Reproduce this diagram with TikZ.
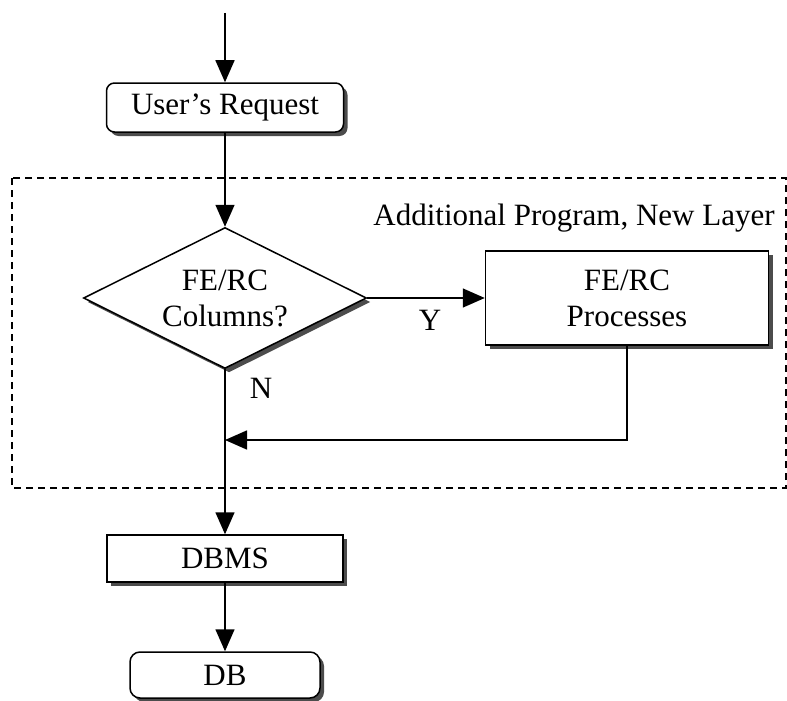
\documentclass[tikz,border=0pt]{standalone}
\usepackage{fontspec}
\setmainfont{Liberation Serif}
\usetikzlibrary{arrows.meta,shapes.geometric,shadows}

\tikzset{
  every node/.style={font=\fontsize{31}{36}\selectfont},
  shade box/.style={draw, line width=1.5pt, fill=white, inner sep=0pt,
    drop shadow={shadow xshift=4pt, shadow yshift=-4pt, fill=black!70, opacity=1}},
  roundbox/.style={shade box, rounded corners=8pt},
  squarebox/.style={shade box, align=center},
  decision/.style={shade box, diamond, aspect=2, align=center},
  arr/.style={line width=1.5pt, -{Triangle[width=19pt,length=22pt]}},
  plain/.style={line width=1.5pt},
  layer/.style={line width=1.5pt, dash pattern=on 7pt off 5pt},
  lbl/.style={inner sep=0pt, anchor=base}
}

\begin{document}
\begin{tikzpicture}[x=1pt, y=-1pt]
  \useasboundingbox[fill=white] (0,0) rectangle (787,701);

  % boundary of the added software layer
  \draw[layer] (12,178) rectangle (786,488);
  \node[lbl] (layerlbl) at (574,225) {Additional Program, New Layer};

  % flow nodes
  \coordinate (start) at (225,13);
  \node[roundbox, minimum width=237pt, minimum height=49pt] (req) at (225,107.5) {User’s Request};
  \node[decision, minimum width=283pt, minimum height=141pt] (dec) at (225,298) {FE/RC\\Columns?};
  \node[squarebox, minimum width=283pt, minimum height=94pt] (proc) at (627,298) {FE/RC\\Processes};
  \node[squarebox, minimum width=236pt, minimum height=47pt] (dbms) at (225,558.5) {DBMS};
  \node[roundbox, rounded corners=10pt, minimum width=190pt, minimum height=46pt] (db) at (225,675) {DB};
  \coordinate (merge) at (225,440);

  % connectors
  \draw[arr] (start) -- (req.north);
  \draw[arr] (req.south) -- (dec.north);
  \draw[arr] (dec.east) -- (proc.west);
  \draw[arr] (proc.south) |- (merge);
  \draw[arr] (dec.south) -- (dbms.north);
  \draw[arr] (dbms.south) -- (db.north);

  % branch labels
  \node[lbl] (ylbl) at (430,330) {Y};
  \node[lbl] (nlbl) at (261,398) {N};
\end{tikzpicture}
\end{document}
